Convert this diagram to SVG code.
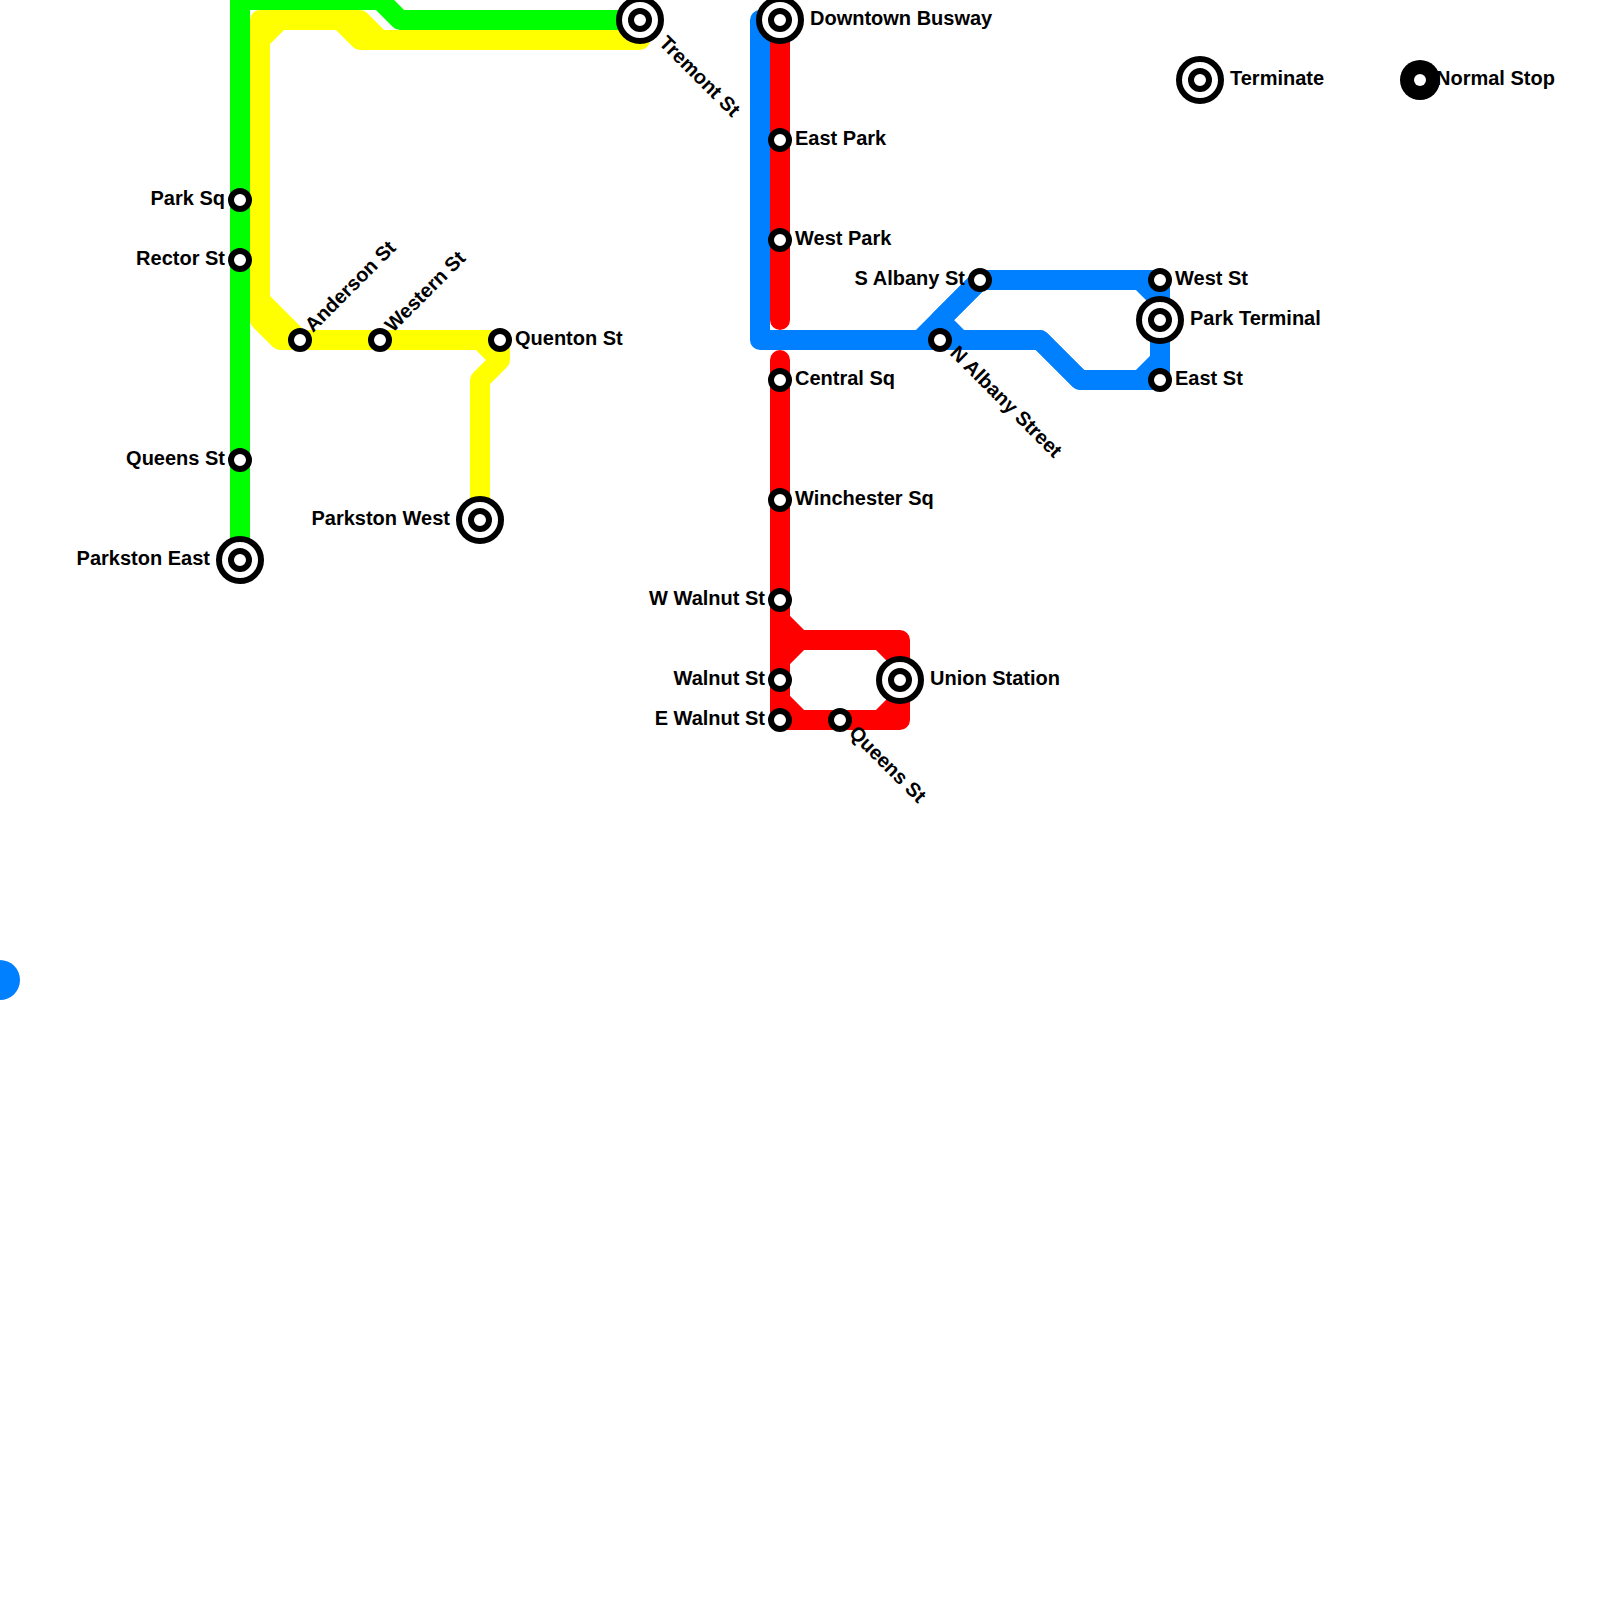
<svg xmlns="http://www.w3.org/2000/svg" width="1600" height="1600" viewBox="0 0 1600 1600">
<style>
.l{fill:none;stroke-width:20;stroke-linejoin:round}
.r{stroke:#f00}.b{stroke:#0080ff}.g{stroke:#0f0}.y{stroke:#ff0}
.s{fill:#fff;stroke:#000;stroke-width:6}
text{font-family:"Liberation Sans",Arial,sans-serif;font-weight:bold;font-size:20px;fill:#000}
.e{text-anchor:end}
</style>
<rect width="1600" height="1600" fill="#fff"/>
<g id="connectors">
<path class="l g" d="M240 560V0H380L400 20H640"/>
<path class="l y" d="M640 20V40H360L340 20H280L260 40V300L300 340H480L500 360L480 380V520"/>
<path class="l y" d="M640 40H380L360 20H260V320L280 340H500V360"/>
<path class="l r" stroke-linecap="round" d="M780 20V320"/>
<path class="l r" stroke-linecap="round" d="M780 360V720"/>
<path class="l r" d="M780 620L800 640H880L900 660V680"/>
<path class="l r" d="M780 660L800 640H900V680"/>
<path class="l r" d="M780 700L800 720H880L900 700V680"/>
<path class="l r" d="M780 720H900V680"/>
<path class="l b" d="M780 20H760V340H920L980 280H1140L1160 300V320"/>
<path class="l b" d="M980 280L940 320L960 340H1040L1080 380H1140L1160 360V320"/>
<path class="l b" d="M980 280H1160V320"/>
<path class="l b" d="M760 340H1040L1080 380H1160V320"/>
</g>
<circle id="legend-blue" cx="0" cy="980" r="20" fill="#0080ff"/>
<g id="park-sq"><circle class="s" cx="240" cy="200" r="9"/><text class="e" x="225" y="205">Park Sq</text></g>
<g id="rector-st"><circle class="s" cx="240" cy="260" r="9"/><text class="e" x="225" y="265">Rector St</text></g>
<g id="queens-st-w"><circle class="s" cx="240" cy="460" r="9"/><text class="e" x="225" y="465">Queens St</text></g>
<g id="parkston-east"><circle class="s" cx="240" cy="560" r="21"/><circle class="s" cx="240" cy="560" r="9"/><text class="e" x="210" y="565">Parkston East</text></g>
<g id="anderson-st"><circle class="s" cx="300" cy="340" r="9"/><text x="313" y="333" transform="rotate(-45 313 333)">Anderson St</text></g>
<g id="western-st"><circle class="s" cx="380" cy="340" r="9"/><text x="393" y="333" transform="rotate(-45 393 333)">Western St</text></g>
<g id="quenton-st"><circle class="s" cx="500" cy="340" r="9"/><text x="515" y="345">Quenton St</text></g>
<g id="parkston-west"><circle class="s" cx="480" cy="520" r="21"/><circle class="s" cx="480" cy="520" r="9"/><text class="e" x="450" y="525">Parkston West</text></g>
<g id="tremont-st"><circle class="s" cx="640" cy="20" r="21"/><circle class="s" cx="640" cy="20" r="9"/><text x="658" y="44" transform="rotate(45 658 44)">Tremont St</text></g>
<g id="downtown-busway"><circle class="s" cx="780" cy="20" r="21"/><circle class="s" cx="780" cy="20" r="9"/><text x="810" y="25">Downtown Busway</text></g>
<g id="east-park"><circle class="s" cx="780" cy="140" r="9"/><text x="795" y="145">East Park</text></g>
<g id="west-park"><circle class="s" cx="780" cy="240" r="9"/><text x="795" y="245">West Park</text></g>
<g id="central-sq"><circle class="s" cx="780" cy="380" r="9"/><text x="795" y="385">Central Sq</text></g>
<g id="winchester-sq"><circle class="s" cx="780" cy="500" r="9"/><text x="795" y="505">Winchester Sq</text></g>
<g id="w-walnut-st"><circle class="s" cx="780" cy="600" r="9"/><text class="e" x="765" y="605">W Walnut St</text></g>
<g id="walnut-st"><circle class="s" cx="780" cy="680" r="9"/><text class="e" x="765" y="685">Walnut St</text></g>
<g id="e-walnut-st"><circle class="s" cx="780" cy="720" r="9"/><text class="e" x="765" y="725">E Walnut St</text></g>
<g id="queens-st-e"><circle class="s" cx="840" cy="720" r="9"/><text x="848" y="734" transform="rotate(45 848 734)">Queens St</text></g>
<g id="union-station"><circle class="s" cx="900" cy="680" r="21"/><circle class="s" cx="900" cy="680" r="9"/><text x="930" y="685">Union Station</text></g>
<g id="s-albany-st"><circle class="s" cx="980" cy="280" r="9"/><text class="e" x="965" y="285">S Albany St</text></g>
<g id="n-albany-street"><circle class="s" cx="940" cy="340" r="9"/><text x="949" y="354" transform="rotate(45 949 354)">N Albany Street</text></g>
<g id="west-st"><circle class="s" cx="1160" cy="280" r="9"/><text x="1175" y="285">West St</text></g>
<g id="park-terminal"><circle class="s" cx="1160" cy="320" r="21"/><circle class="s" cx="1160" cy="320" r="9"/><text x="1190" y="325">Park Terminal</text></g>
<g id="east-st"><circle class="s" cx="1160" cy="380" r="9"/><text x="1175" y="385">East St</text></g>
<g id="legend-terminate"><circle class="s" cx="1200" cy="80" r="21"/><circle class="s" cx="1200" cy="80" r="9"/><text x="1230" y="85">Terminate</text></g>
<g id="legend-normal"><circle cx="1420" cy="80" r="20" fill="#000"/><circle cx="1420" cy="80" r="6" fill="#fff"/><text x="1436" y="85">Normal Stop</text></g>
</svg>
